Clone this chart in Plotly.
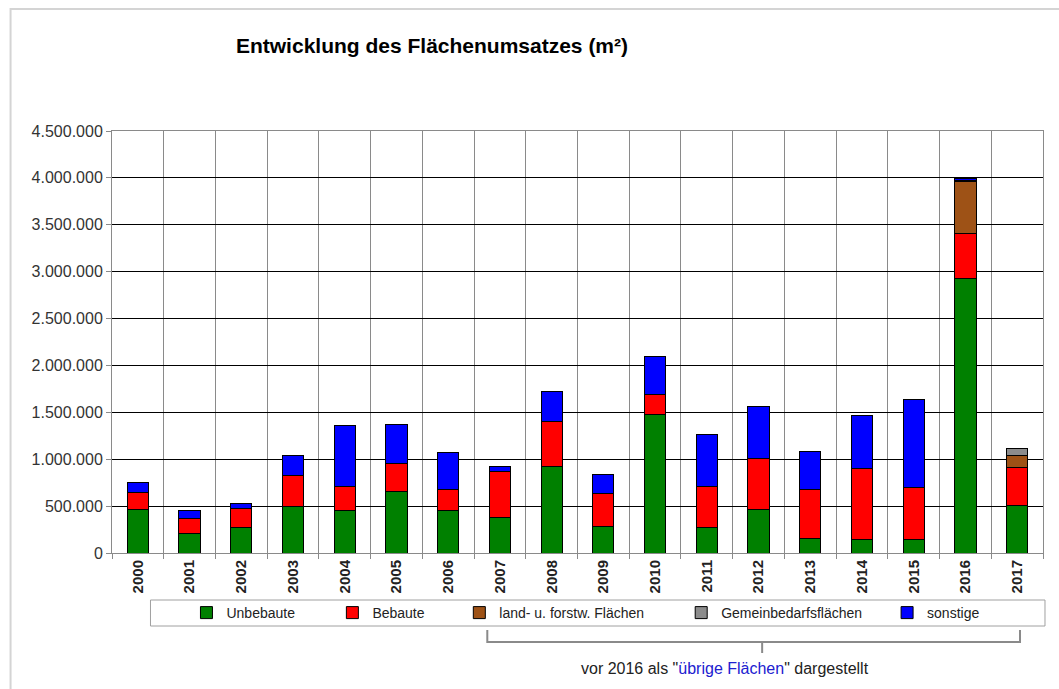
import plotly.graph_objects as go

# Jahre und Flächenumsatz je Teilmarkt (m²)
years = ["2000", "2001", "2002", "2003", "2004", "2005", "2006", "2007", "2008",
         "2009", "2010", "2011", "2012", "2013", "2014", "2015", "2016", "2017"]

unbebaute = [469000, 213000, 267000, 498000, 448000, 658000, 455000, 377000, 925000,
             281000, 1473000, 274000, 459000, 153000, 142000, 142000, 2927000, 510000]
bebaute = [171000, 150000, 206000, 327000, 256000, 295000, 224000, 494000, 473000,
           349000, 213000, 434000, 544000, 526000, 758000, 555000, 481000, 397000]
land_forst = [None, None, None, None, None, None, None, None, None,
              None, None, None, None, None, None, None, 551000, 138000]
gemeinbedarf = [None, None, None, None, None, None, None, None, None,
                None, None, None, None, None, None, None, 15000, 68000]
sonstige = [114000, 85000, 50000, 217000, 655000, 413000, 392000, 50000, 320000,
            206000, 409000, 558000, 559000, 406000, 569000, 936000, 24000, None]

names = ["Unbebaute", "Bebaute", "land- u. forstw. Flächen", "Gemeinbedarfsflächen", "sonstige"]
colours = ["#008000", "#FF0000", "#9E5216", "#8C8C8C", "#0000FF"]
series = [unbebaute, bebaute, land_forst, gemeinbedarf, sonstige]

y_ticks = [0, 500000, 1000000, 1500000, 2000000, 2500000, 3000000, 3500000, 4000000, 4500000]

W, H = 1059, 689
L, R, T, B = 111.5, 1043, 131, 553   # plot area in pixels


def px_x(px):
    return (px - L) / (R - L)


def px_y(py):
    return (B - py) / (B - T)


FONT = "Liberation Sans, Arial, sans-serif"

fig = go.Figure()

# one legend per series so each entry sits where it does in the original
legend_left = [186, 332, 459, 681, 887]
legends = {}
for i, (name, vals, col) in enumerate(zip(names, series, colours)):
    key = "legend" if i == 0 else f"legend{i + 1}"
    fig.add_trace(go.Bar(x=years, y=vals, name=name,
                         marker=dict(color=col, line=dict(color="black", width=1)),
                         legend=key, showlegend=True))
    legends[key] = dict(orientation="h", x=px_x(legend_left[i]), xanchor="left",
                        y=px_y(613), yanchor="middle", bgcolor="rgba(0,0,0,0)",
                        font=dict(family=FONT, size=14, color="#222"),
                        itemwidth=30)

fig.update_layout(
    width=W, height=H,
    margin=dict(l=L, r=W - R, t=T, b=H - B),
    barmode="stack", bargap=0.59,
    showlegend=True,
    paper_bgcolor="white", plot_bgcolor="white",
    separators=",.",
    font=dict(family=FONT, color="#222"),
    title=dict(text="<b>Entwicklung des Flächenumsatzes (m²)</b>",
               x=432 / W, xanchor="center", xref="container",
               y=1 - 46 / H, yanchor="middle", yref="container",
               font=dict(family=FONT, size=21, color="black")),
    **legends,
)

fig.update_xaxes(type="category", tickson="boundaries", showgrid=True,
                 gridcolor="#8a8a8a", gridwidth=1,
                 ticks="outside", ticklen=5, tickcolor="#8a8a8a",
                 showline=True, linecolor="#8a8a8a", mirror=True,
                 tickangle=-90,
                 tickfont=dict(family=FONT, size=15, color="#222", weight="bold"))
fig.update_yaxes(range=[0, 4500000], tickvals=y_ticks, tickformat=",d",
                 showgrid=True, gridcolor="black", gridwidth=1, zeroline=False,
                 ticks="outside", ticklen=5, tickcolor="#8a8a8a",
                 showline=True, linecolor="#8a8a8a", mirror=True,
                 tickfont=dict(family=FONT, size=16, color="#333"))

# outer chart frame
fig.add_shape(type="rect", xref="paper", yref="paper",
              x0=px_x(10), x1=px_x(1075), y0=px_y(9), y1=px_y(700),
              line=dict(color="#d4d4d4", width=2), layer="below")
# legend box
fig.add_shape(type="rect", xref="paper", yref="paper",
              x0=px_x(150), x1=px_x(1045), y0=px_y(600), y1=px_y(626),
              line=dict(color="#a0a0a0", width=1))
# bracket under the legend
bx0, bx1, bmid = 487, 1020, 762
by0, by1, by2 = 630, 642, 653
path = (f"M {px_x(bx0)},{px_y(by0)} L {px_x(bx0)},{px_y(by1)} "
        f"L {px_x(bx1)},{px_y(by1)} L {px_x(bx1)},{px_y(by0)} "
        f"M {px_x(bmid)},{px_y(by1)} L {px_x(bmid)},{px_y(by2)}")
fig.add_shape(type="path", xref="paper", yref="paper", path=path,
              line=dict(color="#8a8a8a", width=2))

fig.add_annotation(xref="paper", yref="paper", x=px_x(725), y=px_y(668),
                   xanchor="center", yanchor="middle", showarrow=False,
                   text='vor 2016 als "<span style="color:#2020D0">übrige Flächen</span>" dargestellt',
                   font=dict(family=FONT, size=16, color="#222"))

fig.write_html("out.html", config={"displayModeBar": False},
               post_script="document.body.style.margin='0px';")
